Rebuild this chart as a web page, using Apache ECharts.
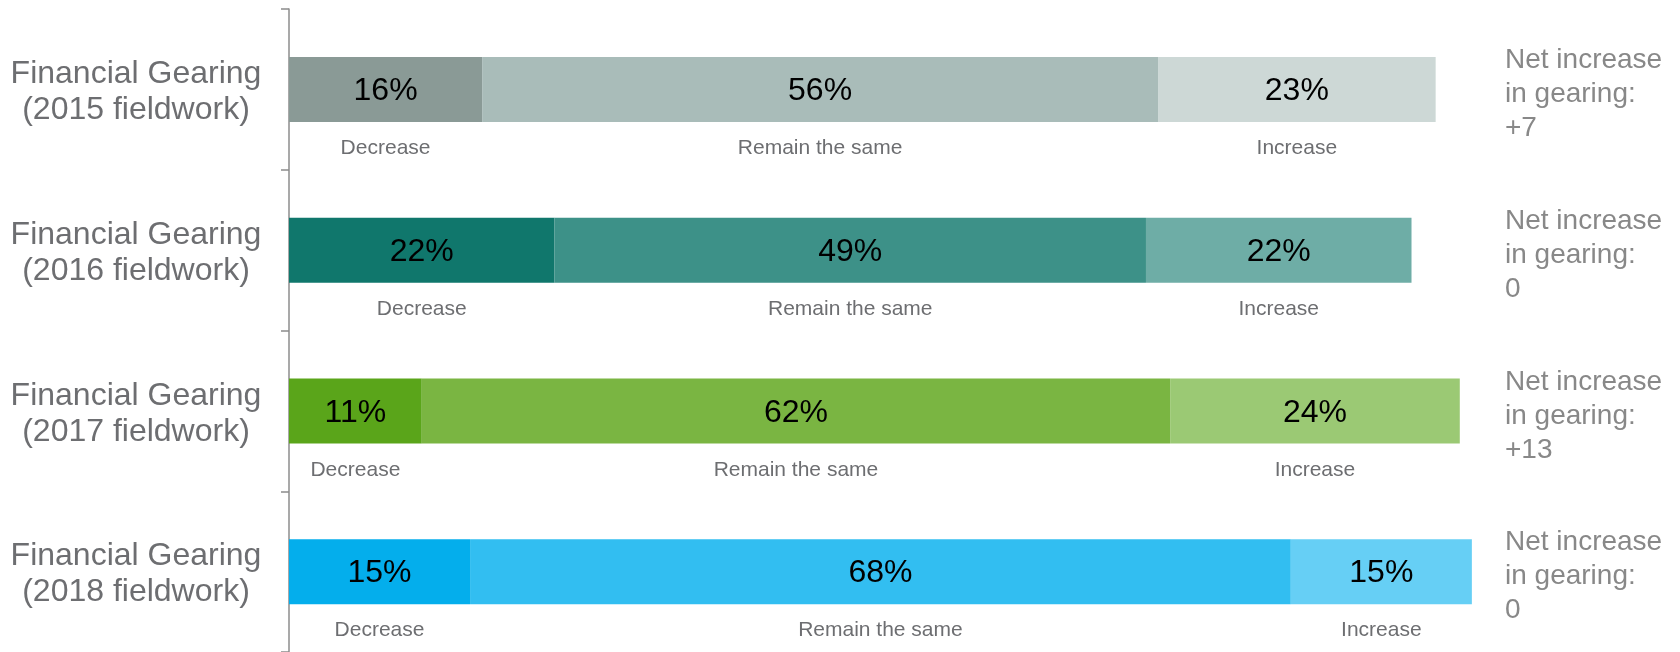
<!DOCTYPE html>
<html>
<head>
<meta charset="utf-8">
<script src="https://cdn.jsdelivr.net/npm/echarts@6/dist/echarts.min.js"></script>
<style>
html,body{margin:0;padding:0;background:#fff;}
#chart{width:1680px;height:652px;}
</style>
</head>
<body>
<div id="chart"></div>
<script>
// ---- data ----
const categories = ['Financial Gearing\n(2015 fieldwork)', 'Financial Gearing\n(2016 fieldwork)', 'Financial Gearing\n(2017 fieldwork)', 'Financial Gearing\n(2018 fieldwork)'];
const segmentNames = ['Decrease', 'Remain the same', 'Increase'];
const decreaseValues = [16, 22, 11, 15];
const remainValues = [56, 49, 62, 68];
const increaseValues = [23, 22, 24, 15];
const netLabels = ['Net increase\nin gearing:\n+7', 'Net increase\nin gearing:\n0', 'Net increase\nin gearing:\n+13', 'Net increase\nin gearing:\n0'];
// colours per row: [decrease, remain, increase]
const rowColors = [
  ['#8a9a96', '#a9bcb9', '#cdd8d6'],
  ['#10776c', '#3d9188', '#6eada6'],
  ['#5aa51a', '#7ab542', '#9bc974'],
  ['#04aeec', '#32bef1', '#66cff5']
];

const FONT = "'Liberation Sans', Arial, sans-serif";
const seriesValues = [decreaseValues, remainValues, increaseValues];

const series = [];
seriesValues.forEach((vals, si) => {
  series.push({
    name: segmentNames[si],
    type: 'bar',
    stack: 'main',
    barWidth: 65,
    silent: true,
    data: vals.map((v, ri) => ({ value: v, itemStyle: { color: rowColors[ri][si] } })),
    label: {
      show: true,
      position: 'inside',
      offset: [0, 2],
      formatter: p => p.value + '%',
      color: '#000',
      fontSize: 32,
      fontFamily: FONT
    }
  });
});
seriesValues.forEach((vals, si) => {
  series.push({
    name: segmentNames[si] + ' label',
    type: 'bar',
    stack: 'names',
    barWidth: 65,
    barGap: '-100%',
    silent: true,
    data: vals.slice(),
    itemStyle: { color: 'rgba(0,0,0,0)' },
    label: {
      show: true,
      position: 'bottom',
      distance: 16,
      formatter: () => segmentNames[si],
      color: '#6d6e71',
      fontSize: 21,
      fontFamily: FONT
    }
  });
});

// wrap each line in a rich token, with a small spacer line on top to nudge the block down
const richLines = v => '{pad| }\n' + v.split('\n').map(s => '{t|' + s + '}').join('\n');

const chart = echarts.init(document.getElementById('chart'), null, { renderer: 'canvas' });
chart.setOption({
  animation: false,
  backgroundColor: '#fff',
  grid: { left: 289, right: 184, top: 9, height: 644, containLabel: false },
  xAxis: { type: 'value', min: 0, max: 100, show: false },
  yAxis: [
    {
      type: 'category',
      data: categories,
      inverse: true,
      position: 'left',
      axisLine: { show: true, lineStyle: { color: '#8c8c8c', width: 1.5 } },
      axisTick: { show: true, length: 8, lineStyle: { color: '#8c8c8c', width: 1.5 } },
      axisLabel: {
        align: 'center',
        margin: 153,
        formatter: richLines,
        rich: {
          pad: { fontSize: 1, lineHeight: 6 },
          t: { fontSize: 32, lineHeight: 36, color: '#6d6e71', fontFamily: FONT, align: 'center' }
        }
      },
      splitLine: { show: false }
    },
    {
      type: 'category',
      data: netLabels,
      inverse: true,
      position: 'right',
      axisLine: { show: false },
      axisTick: { show: false },
      axisLabel: {
        align: 'left',
        margin: 9,
        formatter: richLines,
        rich: {
          pad: { fontSize: 1, lineHeight: 10 },
          t: { fontSize: 28, lineHeight: 34, color: '#888888', fontFamily: FONT }
        }
      },
      splitLine: { show: false }
    }
  ],
  series: series
});
</script>
</body>
</html>
